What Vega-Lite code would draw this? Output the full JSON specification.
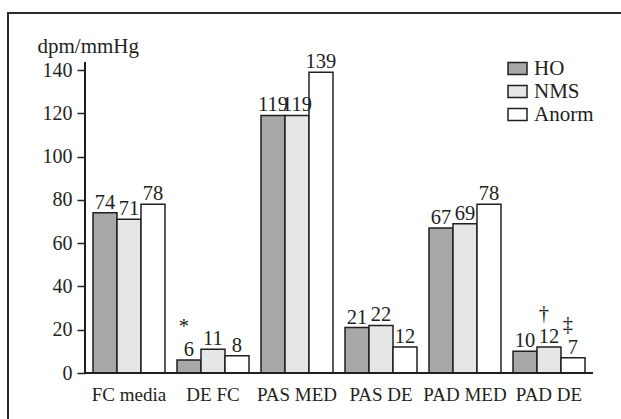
{
  "$schema": "https://vega.github.io/schema/vega-lite/v6.json",
  "width": 630,
  "height": 425,
  "autosize": {"type": "none"},
  "padding": {"left": 8, "top": 13, "right": -17, "bottom": -19},
  "background": "white",
  "config": {
    "view": {"stroke": "#2b2b2b", "strokeWidth": 2},
    "font": "Liberation Serif",
    "text": {"font": "Liberation Serif", "fontSize": 20.5, "color": "#231f20"}
  },
  "data": {
    "values": [
      {"cat": "FC media", "series": "HO", "value": 74, "sig": ""},
      {"cat": "FC media", "series": "NMS", "value": 71, "sig": ""},
      {"cat": "FC media", "series": "Anorm", "value": 78, "sig": ""},
      {"cat": "DE FC", "series": "HO", "value": 6, "sig": "*"},
      {"cat": "DE FC", "series": "NMS", "value": 11, "sig": ""},
      {"cat": "DE FC", "series": "Anorm", "value": 8, "sig": ""},
      {"cat": "PAS MED", "series": "HO", "value": 119, "sig": ""},
      {"cat": "PAS MED", "series": "NMS", "value": 119, "sig": ""},
      {"cat": "PAS MED", "series": "Anorm", "value": 139, "sig": ""},
      {"cat": "PAS DE", "series": "HO", "value": 21, "sig": ""},
      {"cat": "PAS DE", "series": "NMS", "value": 22, "sig": ""},
      {"cat": "PAS DE", "series": "Anorm", "value": 12, "sig": ""},
      {"cat": "PAD MED", "series": "HO", "value": 67, "sig": ""},
      {"cat": "PAD MED", "series": "NMS", "value": 69, "sig": ""},
      {"cat": "PAD MED", "series": "Anorm", "value": 78, "sig": ""},
      {"cat": "PAD DE", "series": "HO", "value": 10, "sig": ""},
      {"cat": "PAD DE", "series": "NMS", "value": 12, "sig": "†"},
      {"cat": "PAD DE", "series": "Anorm", "value": 7, "sig": "‡"}
    ]
  },
  "layer": [
    {
      "mark": {"type": "bar", "stroke": "#231f20", "strokeWidth": 1.5},
      "encoding": {
        "x": {
          "field": "cat", "type": "nominal",
          "sort": ["FC media", "DE FC", "PAS MED", "PAS DE", "PAD MED", "PAD DE"],
          "scale": {"paddingInner": 0.142857, "paddingOuter": 0.821429, "align": 0.61594},
          "axis": {
            "orient": "bottom", "offset": -65, "domain": false, "ticks": false, "tickSize": 0,
            "labelPadding": 12, "labelFont": "Liberation Serif", "labelFontSize": 19,
            "labelColor": "#231f20", "labelAngle": 0, "title": null
          }
        },
        "xOffset": {"field": "series", "type": "nominal", "sort": ["HO", "NMS", "Anorm"], "scale": {"paddingInner": 0, "paddingOuter": 0}},
        "y": {
          "field": "value", "type": "quantitative",
          "scale": {"domain": [-30.03, 166.34], "nice": false, "zero": false},
          "axis": {
            "values": [0, 20, 40, 60, 80, 100, 120, 140],
            "offset": -77, "domain": false, "grid": false,
            "tickSize": 8, "tickColor": "#231f20", "tickWidth": 1.5,
            "labelFont": "Liberation Serif", "labelFontSize": 20, "labelColor": "#231f20", "labelPadding": 5,
            "title": "dpm/mmHg", "titleAngle": 0, "titleAlign": "left", "titleBaseline": "alphabetic",
            "titleX": -48, "titleY": 39, "titleFont": "Liberation Serif", "titleFontSize": 21,
            "titleFontWeight": "normal", "titleColor": "#231f20"
          }
        },
        "y2": {"datum": 0},
        "fill": {
          "field": "series", "type": "nominal",
          "scale": {"domain": ["HO", "NMS", "Anorm"], "range": ["#a7a8aa", "#e5e6e7", "#ffffff"]},
          "legend": {
            "orient": "none", "legendX": 499, "legendY": 45, "title": null, "padding": 0,
            "symbolType": "M-1,-0.63H1V0.63H-1Z", "symbolSize": 361,
            "symbolStrokeColor": "#231f20", "symbolStrokeWidth": 1.5,
            "labelFont": "Liberation Serif", "labelFontSize": 21, "labelColor": "#231f20",
            "labelOffset": 6, "rowPadding": 1
          }
        }
      }
    },
    {
      "mark": {"type": "text", "baseline": "alphabetic", "align": "center", "dy": -4},
      "encoding": {
        "x": {"field": "cat", "type": "nominal", "sort": ["FC media", "DE FC", "PAS MED", "PAS DE", "PAD MED", "PAD DE"]},
        "xOffset": {"field": "series", "type": "nominal", "sort": ["HO", "NMS", "Anorm"]},
        "y": {"field": "value", "type": "quantitative"},
        "text": {"field": "value", "type": "quantitative"}
      }
    },
    {
      "transform": [{"filter": "datum.sig != ''"}],
      "mark": {"type": "text", "baseline": "alphabetic", "align": "center", "dy": -27, "dx": -5},
      "encoding": {
        "x": {"field": "cat", "type": "nominal", "sort": ["FC media", "DE FC", "PAS MED", "PAS DE", "PAD MED", "PAD DE"]},
        "xOffset": {"field": "series", "type": "nominal", "sort": ["HO", "NMS", "Anorm"]},
        "y": {"field": "value", "type": "quantitative"},
        "text": {"field": "sig", "type": "nominal"}
      }
    },
    {
      "mark": {"type": "rule", "stroke": "#231f20", "strokeWidth": 1.5},
      "encoding": {
        "x": {"datum": "FC media", "bandPosition": -0.111},
        "x2": {"datum": "PAD DE", "bandPosition": 1.111},
        "y": {"datum": 0}
      }
    },
    {
      "mark": {"type": "rule", "stroke": "#231f20", "strokeWidth": 1.5},
      "encoding": {
        "x": {"datum": "FC media", "bandPosition": -0.111},
        "y": {"datum": 0},
        "y2": {"datum": 143.7}
      }
    }
  ]
}
